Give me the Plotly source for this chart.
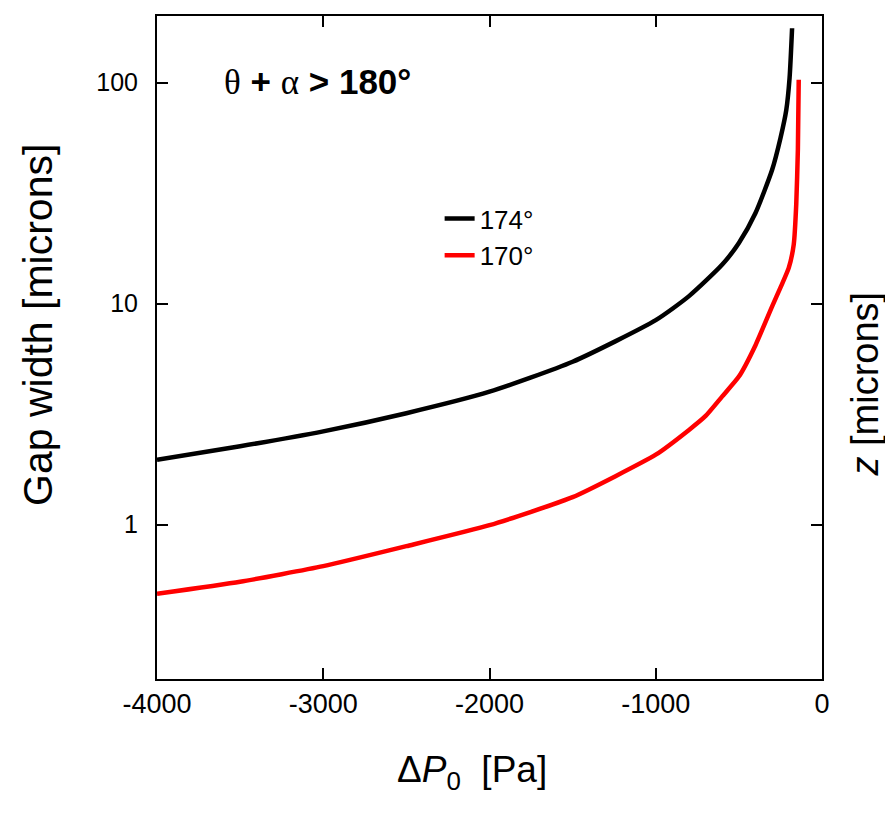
import numpy as np
import plotly.graph_objects as go

# Data
dp_174 = [-4000, -3500, -3000, -2500, -2000, -1500, -1000, -800, -600, -500, -400, -300, -250, -215, -195, -180]
gap_174 = [1.965, 2.26, 2.64, 3.19, 3.99, 5.45, 8.41, 10.8, 15.0, 18.8, 25.7, 40.3, 56.0, 75.0, 105.0, 176.0]

dp_170 = [-4000, -3500, -3000, -2500, -2000, -1500, -1000, -800, -700, -600, -500, -400, -300, -250, -200, -170, -155, -145, -140]
gap_170 = [0.486, 0.551, 0.648, 0.798, 0.993, 1.33, 2.07, 2.68, 3.1, 3.8, 4.67, 6.48, 9.7, 11.8, 14.5, 18.5, 28.0, 50.0, 103.0]

x_ticks = [-4000, -3000, -2000, -1000, 0]
x_ticktext = ["-4000", "-3000", "-2000", "-1000", "0"]
y_ticks = [1, 10, 100]
y_ticktext = ["1", "10", "100"]

FONT = "Liberation Sans, Arial, sans-serif"
SERIF = "Liberation Serif, Times New Roman, serif"

fig = go.Figure()
fig.add_trace(go.Scatter(x=dp_174, y=gap_174, mode="lines", name="174°",
                         line=dict(color="black", width=4.5, shape="spline", smoothing=0.6)))
fig.add_trace(go.Scatter(x=dp_170, y=gap_170, mode="lines", name="170°",
                         line=dict(color="#ff0000", width=4.5, shape="spline", smoothing=0.5)))

fig.update_layout(
    width=877, height=806,
    margin=dict(l=149, r=63, t=6, b=135),
    plot_bgcolor="white", paper_bgcolor="white",
    font=dict(family=FONT, color="black", size=26),
    showlegend=True,
    legend=dict(x=0.425, y=0.73, xanchor="left", yanchor="top",
                bgcolor="rgba(0,0,0,0)", font=dict(size=26, family=FONT),
                tracegroupgap=0),
)
fig.update_xaxes(
    range=[-4000, 0], tickvals=x_ticks, ticktext=x_ticktext,
    ticks="inside", ticklen=11, tickwidth=1.5, tickcolor="black",
    showline=True, linecolor="black", linewidth=2, mirror="ticks",
    showgrid=False, zeroline=False,
    tickfont=dict(size=27, family=FONT),
)
fig.update_yaxes(
    type="log", range=[np.log10(0.2), np.log10(200)],
    tickvals=y_ticks, ticktext=y_ticktext,
    ticks="inside", ticklen=11, tickwidth=1.5, tickcolor="black",
    showline=True, linecolor="black", linewidth=2, mirror="ticks",
    showgrid=False, zeroline=False, ticklabelstandoff=12,
    tickfont=dict(size=25, family=FONT),
)

# Axis titles
fig.add_annotation(
    xref="paper", yref="paper", x=0.474, y=-0.14, xanchor="center", yanchor="middle",
    text="Δ<i>P</i><sub>0</sub>&nbsp;&nbsp;[Pa]", showarrow=False,
    font=dict(size=37, family=FONT, color="black"),
)
fig.add_annotation(
    xref="paper", yref="paper", x=-0.179, y=0.534, xanchor="center", yanchor="middle",
    text="Gap width [microns]", textangle=-90, showarrow=False,
    font=dict(size=41, family=FONT, color="black"),
)
fig.add_annotation(
    xref="paper", yref="paper", x=1.064, y=0.445, xanchor="center", yanchor="middle",
    text="<i>z</i> [microns]", textangle=-90, showarrow=False,
    font=dict(size=38, family=FONT, color="black"),
)
fig.add_annotation(
    xref="paper", yref="paper", x=0.098, y=0.9, xanchor="left", yanchor="middle",
    text=(f"<span style='font-family:{SERIF}'>θ</span>"
          " <b>+</b> "
          f"<span style='font-family:{SERIF}'>α</span>"
          " <b>&gt; 180°</b>"),
    showarrow=False, font=dict(size=35, family=FONT, color="black"),
)

fig.write_html("out.html")
